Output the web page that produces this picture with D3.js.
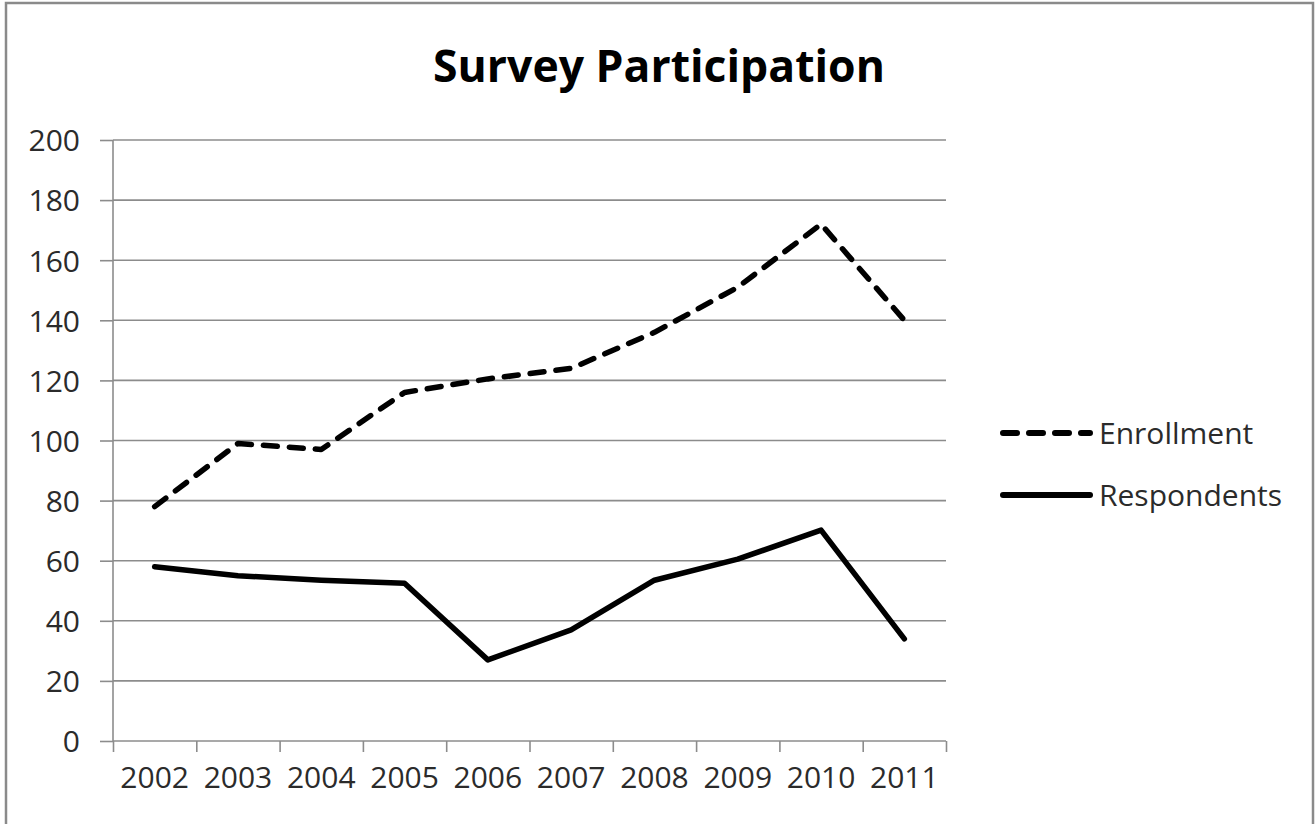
<!DOCTYPE html>
<html>
<head>
<meta charset="utf-8">
<script src="https://cdn.jsdelivr.net/npm/d3@7"></script>
<style>
  html, body { margin: 0; padding: 0; background: #fff; }
  svg { display: block; }
  text { font-family: "Open Sans", "Noto Sans", sans-serif; }
</style>
</head>
<body>
<svg id="chart" width="1316" height="824"></svg>
<script>
const years = ["2002","2003","2004","2005","2006","2007","2008","2009","2010","2011"];
const enrollment = [78, 99, 97, 116, 120.5, 124, 136, 151, 172, 140];
const respondents = [58, 55, 53.5, 52.5, 27, 37, 53.5, 60.5, 70.2, 34];
const yTicks = [0, 20, 40, 60, 80, 100, 120, 140, 160, 180, 200];
const seriesNames = ["Enrollment", "Respondents"];
const titleText = "Survey Participation";

const svg = d3.select("#chart");
const W = 1316, H = 824;
const plot = { left: 113, right: 946, top: 140, bottom: 741 };
const gridColor = "#8c8c8c";
const textColor = "#2b2b2b";

svg.append("rect").attr("width", W).attr("height", H).attr("fill", "#fff");
// outer frame
svg.append("rect")
  .attr("x", 6).attr("y", 3).attr("width", 1307).attr("height", 840)
  .attr("fill", "none").attr("stroke", "#8a8a8a").attr("stroke-width", 2.5);

const x = d3.scaleBand().domain(years).range([plot.left, plot.right]).padding(0);
const xEdge = d3.scaleLinear().domain([0, years.length]).range([plot.left, plot.right]);
const y = d3.scaleLinear().domain([0, 200]).range([plot.bottom, plot.top]);
const cx = d => x(d) + x.bandwidth() / 2;

// gridlines + y axis ticks
const yAxis = d3.axisLeft(y).tickValues(yTicks).tickSize(13).tickPadding(20);
const gy = svg.append("g").attr("transform", `translate(${plot.left},0)`).call(yAxis);
gy.select(".domain").remove();
gy.selectAll(".tick line").attr("stroke", gridColor).attr("stroke-width", 1.6);
gy.selectAll(".tick text")
  .attr("fill", textColor).style("font-size", "30px").attr("x", -33).attr("dy", "0.36em");

svg.append("g").selectAll("line").data(yTicks).join("line")
  .attr("x1", plot.left).attr("x2", plot.right)
  .attr("y1", d => y(d)).attr("y2", d => y(d))
  .attr("stroke", gridColor).attr("stroke-width", 1.6);

// y axis line
svg.append("line")
  .attr("x1", plot.left).attr("x2", plot.left)
  .attr("y1", plot.top).attr("y2", plot.bottom + 1)
  .attr("stroke", gridColor).attr("stroke-width", 1.6);

// x axis ticks at band edges
const gxt = svg.append("g").attr("transform", `translate(0,${plot.bottom})`)
  .call(d3.axisBottom(xEdge).tickValues(d3.range(years.length + 1)).tickFormat("").tickSize(11));
gxt.select(".domain").remove();
gxt.selectAll(".tick line").attr("stroke", gridColor).attr("stroke-width", 1.6);

// x labels
const gx = svg.append("g").attr("transform", `translate(0,${plot.bottom})`)
  .call(d3.axisBottom(x).tickSize(0).tickPadding(26));
gx.select(".domain").remove();
gx.selectAll(".tick text").attr("fill", textColor).style("font-size", "30px");

// lines
const line = d3.line()
  .x((d, i) => cx(years[i]))
  .y(d => y(d))
  .curve(d3.curveLinear);

svg.append("path").datum(enrollment)
  .attr("d", line).attr("fill", "none").attr("stroke", "#000")
  .attr("stroke-width", 5.5).attr("stroke-linecap", "round").attr("stroke-linejoin", "round")
  .attr("stroke-dasharray", "14,12");

svg.append("path").datum(respondents)
  .attr("d", line).attr("fill", "none").attr("stroke", "#000")
  .attr("stroke-width", 5.5).attr("stroke-linecap", "round").attr("stroke-linejoin", "round");

// legend
const legendRows = [
  { name: seriesNames[0], dash: "14,12", y: 433 },
  { name: seriesNames[1], dash: null, y: 495 }
];
const lg = svg.append("g");
legendRows.forEach(r => {
  const l = lg.append("line")
    .attr("x1", 1003).attr("x2", 1090).attr("y1", r.y).attr("y2", r.y)
    .attr("stroke", "#000").attr("stroke-width", 6).attr("stroke-linecap", "round");
  if (r.dash) l.attr("stroke-dasharray", r.dash);
  lg.append("text").attr("x", 1099).attr("y", r.y).attr("dy", "0.36em")
    .attr("fill", textColor).style("font-size", "30px").text(r.name);
});

// title
const t = svg.append("text")
  .attr("x", 659).attr("y", 82).attr("text-anchor", "middle")
  .attr("fill", "#000").style("font-weight", "700").style("font-size", "40px")
  .text(titleText);
const tw = t.node().getComputedTextLength();
t.style("font-size", (40 * 452 / tw).toFixed(2) + "px");
</script>
</body>
</html>
